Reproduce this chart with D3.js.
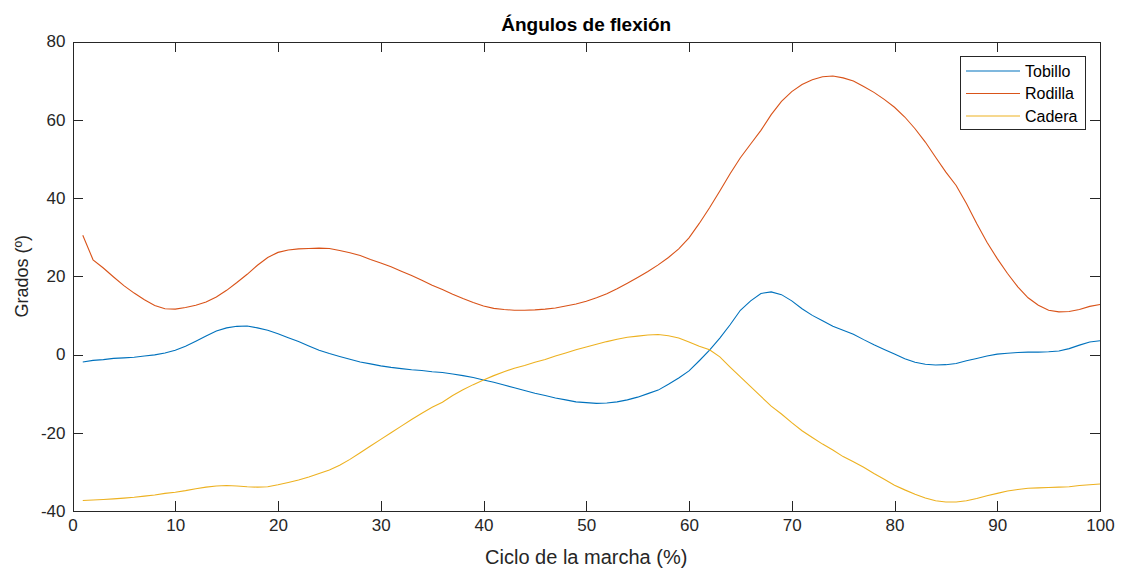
<!DOCTYPE html>
<html>
<head>
<meta charset="utf-8">
<script src="https://cdn.jsdelivr.net/npm/d3@7"></script>
<style>
  body { margin: 0; background: #fff; }
  .chart text { font-family: "Liberation Sans", Arial, sans-serif; fill: #262626; }
  .axis path, .axis line { stroke: #262626; stroke-width: 1; shape-rendering: crispEdges; }
  .axis text { font-size: 17px; }
</style>
</head>
<body>
<div class="chart"></div>
<script>
// gait cycle %, 1..100
var ciclo = d3.range(1, 101);

var tobillo = [
  -1.9, -1.5, -1.3, -1.0, -0.85, -0.7, -0.4, -0.1, 0.4, 1.1,
  2.1, 3.4, 4.7, 6.0, 6.8, 7.2, 7.3, 6.8, 6.2, 5.3,
  4.3, 3.3, 2.2, 1.1, 0.25, -0.5, -1.2, -1.9, -2.4, -2.9,
  -3.3, -3.6, -3.9, -4.1, -4.4, -4.6, -5.0, -5.4, -5.9, -6.5,
  -7.1, -7.8, -8.5, -9.2, -9.9, -10.5, -11.1, -11.6, -12.1, -12.3,
  -12.5, -12.4, -12.1, -11.6, -10.9, -10.0, -9.1, -7.6, -6.0, -4.2,
  -1.6, 1.1, 4.2, 7.6, 11.3, 13.7, 15.6, 16.0, 15.3, 13.7,
  11.7, 10.0, 8.6, 7.2, 6.2, 5.2, 3.8, 2.5, 1.3, 0.1,
  -1.1, -2.0, -2.5, -2.7, -2.6, -2.3, -1.6, -1.0, -0.4, 0.1,
  0.3, 0.5, 0.6, 0.6, 0.7, 0.9, 1.5, 2.4, 3.2, 3.5
];

var rodilla = [
  30.5, 24.2, 22.1, 19.8, 17.6, 15.7, 14.0, 12.5, 11.7, 11.6,
  12.0, 12.6, 13.4, 14.7, 16.4, 18.4, 20.5, 22.8, 24.8, 26.1,
  26.7, 27.0, 27.1, 27.2, 27.1, 26.6, 26.0, 25.3, 24.3, 23.4,
  22.4, 21.3, 20.2, 19.0, 17.7, 16.6, 15.4, 14.3, 13.3, 12.4,
  11.8, 11.5, 11.3, 11.3, 11.4, 11.6, 11.9, 12.4, 12.9, 13.6,
  14.5, 15.5, 16.8, 18.2, 19.7, 21.2, 22.9, 24.8, 27.0, 29.8,
  33.5, 37.5, 41.8, 46.2, 50.3, 53.8, 57.3, 61.3, 64.7, 67.2,
  69.0, 70.2, 71.0, 71.2, 70.7, 69.9, 68.5, 67.0, 65.2, 63.2,
  60.7, 57.7, 54.3, 50.4, 46.6, 43.2, 38.6, 33.5, 28.7, 24.5,
  20.7, 17.3, 14.5, 12.6, 11.3, 10.9, 11.0, 11.5, 12.3, 12.8
];

var cadera = [
  -37.3, -37.2, -37.05, -36.9, -36.7, -36.5, -36.2, -35.9, -35.5, -35.2,
  -34.8, -34.3, -33.9, -33.6, -33.5, -33.6, -33.8, -33.9, -33.8, -33.3,
  -32.7, -32.1, -31.3, -30.4, -29.5, -28.3, -26.8, -25.1, -23.4, -21.7,
  -20.0, -18.3, -16.6, -15.0, -13.5, -12.2, -10.5, -9.0, -7.7, -6.5,
  -5.4, -4.4, -3.5, -2.8, -2.0, -1.3, -0.4, 0.4, 1.2, 1.9,
  2.6, 3.3, 3.9, 4.4, 4.7, 5.0, 5.1, 4.8, 4.2, 3.2,
  2.1, 1.2, -0.6, -3.2, -5.7, -8.2, -10.7, -13.2, -15.2, -17.4,
  -19.5, -21.2, -22.9, -24.4, -26.1, -27.4, -28.8, -30.4, -31.9, -33.4,
  -34.6, -35.7, -36.7, -37.4, -37.7, -37.7, -37.4, -36.8, -36.1, -35.5,
  -34.9, -34.5, -34.2, -34.1, -34.0, -33.9, -33.8, -33.5, -33.3, -33.1
];

var nombres = ["Tobillo", "Rodilla", "Cadera"];
var colores = ["#0072BD", "#D95319", "#EDB120"];
var xTicks = d3.range(0, 101, 10);
var yTicks = d3.range(-40, 81, 20);

var svgWidth = 1122;
var svgHeight = 568;
var margin = { top: 41.5, right: 22, bottom: 57, left: 72.5 };
var width = svgWidth - margin.left - margin.right;
var height = svgHeight - margin.top - margin.bottom;

var svg = d3.select(".chart")
  .append("svg")
  .attr("width", svgWidth)
  .attr("height", svgHeight);

var chartGroup = svg.append("g")
  .attr("transform", `translate(${margin.left},${margin.top})`);

var xScale = d3.scaleLinear().domain([0, 100]).range([0, width]);
var yScale = d3.scaleLinear().domain([-40, 80]).range([height, 0]);

// plain hyphen for negatives, like matlab
var fmt = d => String(d);

// axes, ticks pointing inward
chartGroup.append("g")
  .attr("class", "axis")
  .attr("transform", `translate(0, ${height})`)
  .call(d3.axisBottom(xScale).tickValues(xTicks).tickFormat(fmt).tickSize(-10).tickSizeOuter(0).tickPadding(8));

chartGroup.append("g")
  .attr("class", "axis")
  .call(d3.axisLeft(yScale).tickValues(yTicks).tickFormat(fmt).tickSize(-10).tickSizeOuter(0).tickPadding(7));

chartGroup.append("g")
  .attr("class", "axis")
  .call(d3.axisTop(xScale).tickValues(xTicks).tickSize(-10).tickSizeOuter(0).tickFormat(""));

chartGroup.append("g")
  .attr("class", "axis")
  .attr("transform", `translate(${width}, 0)`)
  .call(d3.axisRight(yScale).tickValues(yTicks).tickSize(-10).tickSizeOuter(0).tickFormat(""));

// lines
var series = [tobillo, rodilla, cadera];
var line = d3.line()
  .x((d, i) => xScale(ciclo[i]))
  .y(d => yScale(d));

chartGroup.selectAll(".serie")
  .data(series)
  .enter()
  .append("path")
  .attr("class", "serie")
  .attr("d", d => line(d))
  .attr("fill", "none")
  .attr("stroke", (d, i) => colores[i])
  .attr("stroke-width", 1.1);

// title and axis labels
svg.append("text")
  .attr("x", margin.left + width / 2)
  .attr("y", 31)
  .attr("text-anchor", "middle")
  .style("font-size", "19px")
  .style("font-weight", "bold")
  .style("fill", "#000")
  .text("Ángulos de flexión");

svg.append("text")
  .attr("x", margin.left + width / 2)
  .attr("y", 564)
  .attr("text-anchor", "middle")
  .style("font-size", "20px")
  .text("Ciclo de la marcha (%)");

svg.append("text")
  .attr("transform", `rotate(-90)`)
  .attr("x", -(margin.top + height / 2))
  .attr("y", 28)
  .attr("text-anchor", "middle")
  .style("font-size", "18px")
  .text("Grados (º)");

// legend
var legend = svg.append("g").attr("transform", "translate(960, 56)");
legend.append("rect")
  .attr("x", 0.5).attr("y", 0.5)
  .attr("width", 125).attr("height", 73)
  .attr("fill", "#fff")
  .attr("stroke", "#262626")
  .attr("stroke-width", 1);

var items = legend.selectAll(".item")
  .data(nombres)
  .enter()
  .append("g")
  .attr("class", "item")
  .attr("transform", (d, i) => `translate(0, ${15 + i * 22.5})`);

items.append("line")
  .attr("x1", 6).attr("x2", 60)
  .attr("y1", 0).attr("y2", 0)
  .attr("stroke", (d, i) => colores[i])
  .attr("stroke-width", 1.1);

items.append("text")
  .attr("x", 65)
  .attr("y", 5.5)
  .style("font-size", "16px")
  .style("fill", "#000")
  .text(d => d);
</script>
</body>
</html>
